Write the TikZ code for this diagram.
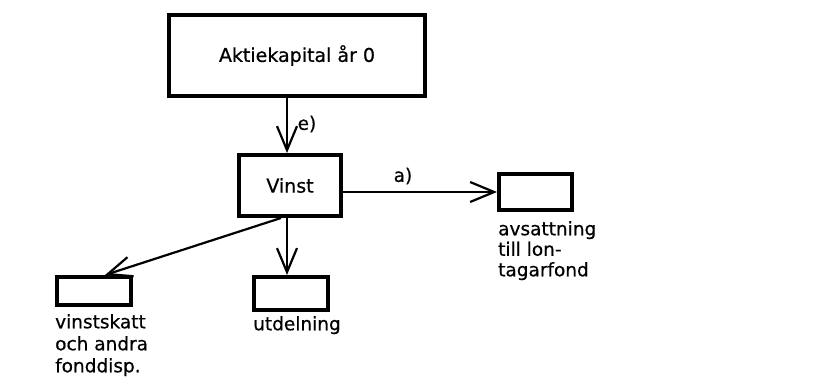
\documentclass[tikz,border=0pt]{standalone}
\usepackage{fontspec}
\setmainfont[FakeBold=0.6]{DejaVu Sans}
\usetikzlibrary{arrows.meta}
\begin{document}
\begin{tikzpicture}[x=1pt,y=-1pt,
  box/.style={draw, line width=4.4pt, inner sep=0pt},
  conn/.style={line width=2.2pt, -{Straight Barb[length=24pt,width=20pt]}},
  boxtext/.style={font=\fontsize{19}{22}\selectfont},
  lbl/.style={font=\fontsize{18.5}{20.5}\selectfont, inner sep=0pt, align=left, anchor=north west},
  tag/.style={font=\fontsize{18.5}{21}\selectfont, inner sep=0pt}]
\useasboundingbox[fill=white] (0,0) rectangle (826,383);
% boxes
\node[box, boxtext, minimum width=255.6pt, minimum height=80.6pt] (top) at (297,55.5) {Aktiekapital år 0};
\node[box, boxtext, minimum width=101.6pt, minimum height=60.6pt] (vinst) at (290,185.5) {Vinst};
\node[box, minimum width=72.6pt, minimum height=35.6pt] (fond) at (535.5,192) {};
\node[box, minimum width=73.6pt, minimum height=32.6pt] (utd) at (291,293.5) {};
\node[box, minimum width=73.6pt, minimum height=27.6pt] (skatt) at (94,291) {};
% labels
\node[lbl] (fondlbl) at (498,221) {avsattning\\till lon-\\tagarfond};
\node[lbl] (utdlbl) at (253,316) {utdelning};
\node[lbl, font=\fontsize{18.5}{22}\selectfont] (skattlbl) at (55,314) {vinstskatt\\och andra\\fonddisp.};
% connectors
\draw[conn] ([xshift=-3pt]vinst.north |- top.south) -- ([xshift=-3pt]vinst.north);
\draw[conn] (vinst.east |- fond.west) -- (fond.west);
\draw[conn] ([xshift=-3pt]vinst.south) -- ([xshift=-3pt]vinst.south |- utd.north);
\draw[conn] ([xshift=-9pt]vinst.south) -- ([xshift=11pt]skatt.north);
% connector tags
\node[tag] (etag) at (307,124) {e)};
\node[tag] (atag) at (403,176) {a)};
\end{tikzpicture}
\end{document}
